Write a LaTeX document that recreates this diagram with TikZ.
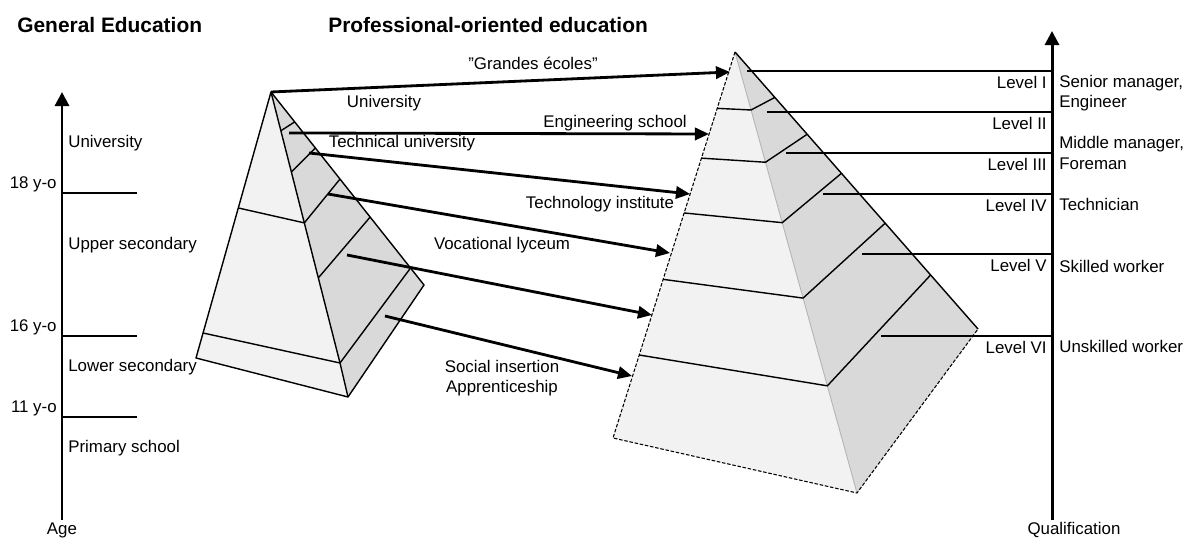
\documentclass[tikz,border=0pt]{standalone}
\usepackage{fontspec}
\setmainfont{Liberation Sans}
\usetikzlibrary{calc,arrows.meta}
\definecolor{faceL}{HTML}{F2F2F2}
\definecolor{faceR}{HTML}{D9D9D9}
\definecolor{ridge}{HTML}{B4B4B4}
\tikzset{
  edge/.style={draw=black, line width=0.8pt, line join=round},
  hid/.style={draw=black, line width=0.6pt, dash pattern=on 2pt off 1pt},
  tickline/.style={draw=black, line width=0.8pt},
  flow/.style={draw=black, line width=1.6pt, -{Triangle[length=8pt,width=7pt]}},
  axis/.style={draw=black, line width=1.7pt, -{Triangle[length=8pt,width=8pt]}},
  lab/.style={font=\fontsize{9.6}{11.5}\selectfont, inner sep=0pt},
  head/.style={font=\fontsize{11.9}{14}\selectfont\bfseries, inner sep=0pt},
}
\begin{document}
\begin{tikzpicture}[x=0.02cm,y=-0.02cm]
  \useasboundingbox (0,0) rectangle (1191,540);

  % headings
  \node[head,anchor=west] (hgen) at (17,25) {General Education};
  \node[head,anchor=west] (hpro) at (328,25) {Professional-oriented education};

  % age axis
  \coordinate (ageB) at (62,520);
  \coordinate (ageT) at (62,92);
  \draw[axis] (ageB) -- (ageT);
  \node[lab] (age) at (62,530) {Age};
  \foreach \y/\t [count=\i] in {193/18,336/16,417/11}{
    \coordinate (tk\i) at (137,\y);
    \draw[tickline] (tk\i -| ageB) -- (tk\i);
    \node[lab,anchor=east] (yo\i) at (57,\y-9) {\t\ y-o};
  }
  \foreach \y/\t [count=\i] in {143/University,245/Upper secondary,367/Lower secondary,448/Primary school}
    \node[lab,anchor=west] (st\i) at (68,\y) {\t};

  % left pyramid
  \coordinate (LA) at (271,92);
  \coordinate (LL) at (196,358);
  \coordinate (LF) at (348,397);
  \coordinate (LR) at (424,285);
  \coordinate (LK) at (340,363);
  \fill[faceL] (LA) -- (LL) -- (LF) -- (LK) -- cycle;
  \fill[faceR] (LA) -- (LK) -- (LF) -- (LR) -- cycle;
  \draw[edge] (LA) -- (LL) -- (LF) -- (LR) -- cycle;
  \draw[edge] (LA) -- (LK) -- (LF);
  \draw[edge] ($(LA)!0.906!(LL)$) -- (LK) -- ($(LA)!0.912!(LR)$);
  \draw[edge] ($(LA)!0.436!(LL)$) -- ($(LA)!0.483!(LK)$);
  \foreach \a/\b in {0.143/0.155,0.295/0.290,0.483/0.451,0.686/0.648}
    \draw[edge] ($(LA)!\a!(LK)$) -- ($(LA)!\b!(LR)$);

  % right pyramid
  \coordinate (RA) at (735,52);
  \coordinate (RL) at (613,438);
  \coordinate (RF) at (857,493);
  \coordinate (RR) at (978,329);
  \fill[faceL] (RA) -- (RL) -- (RF) -- cycle;
  \fill[faceR] (RA) -- (RF) -- (RR) -- cycle;
  \draw[ridge, line width=0.5pt] (RA) -- (RF);
  \draw[hid] (RA) -- (RL) -- (RF) -- (RR);
  \draw[edge] (RA) -- (RR);
  \foreach \l/\m/\r in {0.146/0.1315/0.164,0.275/0.250/0.297,0.417/0.387/0.438,0.589/0.558/0.618,0.785/0.757/0.805}
    \draw[edge] ($(RA)!\l!(RL)$) -- ($(RA)!\m!(RF)$) -- ($(RA)!\r!(RR)$);

  % qualification axis
  \coordinate (quaB) at (1052,520);
  \coordinate (quaT) at (1052,31);
  \draw[axis] (quaB) -- (quaT);
  \node[lab] (qua) at (1074,530) {Qualification};
  \foreach \x/\y/\r [count=\i] in {747/71/I,767/112/II,786/153/III,823/194/IV,862/254/V,881/336/VI}{
    \coordinate (lv\i) at (\x,\y);
    \draw[tickline] (lv\i) -- (lv\i -| quaB);
    \node[lab,anchor=east] (lvl\i) at (1047,\y+11) {Level \r};
  }
  \foreach \y/\t [count=\i] in {83/{Senior manager,},103/Engineer,144/{Middle manager,},164/Foreman,204/Technician,266/Skilled worker,346/Unskilled worker}
    \node[lab,anchor=west] (job\i) at (1059,\y) {\t};

  % pathways
  \coordinate (s1) at (LA);
  \coordinate (s2) at (289,133);
  \coordinate (s3) at (309,153);
  \coordinate (s4) at (328,194);
  \coordinate (s5) at (347,255);
  \coordinate (s6) at (385,316);
  \coordinate (t1) at (730,72);
  \coordinate (t2) at (709,134);
  \coordinate (t3) at (690,194);
  \coordinate (t4) at (670,253);
  \coordinate (t5) at (652,315);
  \coordinate (t6) at (632,376);
  \foreach \i in {1,...,6}
    \draw[flow] (s\i) -- (t\i);

  \node[lab] (gec) at (533,63) {"Grandes écoles"};
  \node[lab] (uni) at (384,103) {University};
  \node[lab] (eng) at (615,123) {Engineering school};
  \node[lab] (tun) at (402,143) {Technical university};
  \node[lab] (tin) at (600,204) {Technology institute};
  \node[lab] (voc) at (502,245) {Vocational lyceum};
  \node[lab,align=center] (soc) at (502,378) {Social insertion\\Apprenticeship};
\end{tikzpicture}
\end{document}
